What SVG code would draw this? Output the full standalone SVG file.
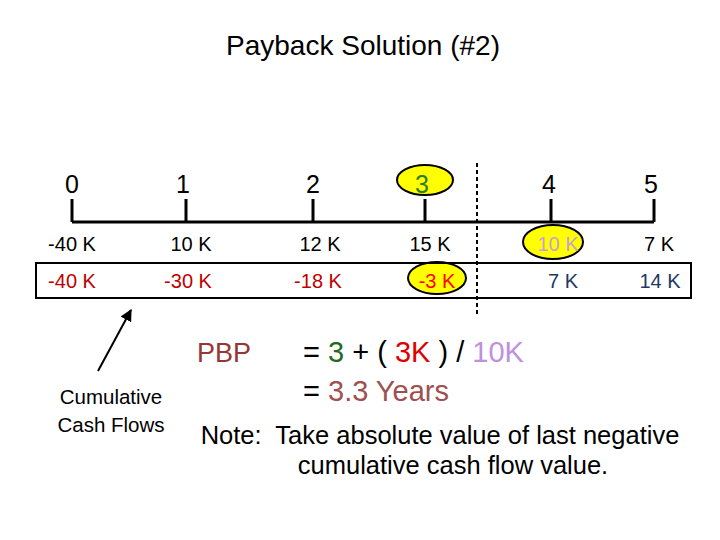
<svg xmlns="http://www.w3.org/2000/svg" width="720" height="540" viewBox="0 0 720 540">
<style>
text{font-family:"Liberation Sans","DejaVu Sans",sans-serif;}
.yr{font-size:25px;text-anchor:middle;fill:#000;}
.cf{font-size:20px;text-anchor:middle;fill:#000;}
.cum{font-size:20px;text-anchor:middle;fill:#C00000;}
.line{stroke:#000;stroke-width:3;fill:none;}
.hl{fill:#FFFF00;stroke:#000;stroke-width:2;}
.big{font-size:29px;}
.note{font-size:25.5px;fill:#000;text-anchor:middle;white-space:pre;}
</style>
<defs>
<marker id="ah" viewBox="0 0 10 10" refX="9" refY="5" markerWidth="6" markerHeight="6" orient="auto">
<path d="M0,0 L10,5 L0,10 z" fill="#000"/>
</marker>
</defs>
<rect width="720" height="540" fill="#fff"/>
<g id="title"><text x="363" y="55" font-size="28" text-anchor="middle" fill="#000">Payback Solution (#2)</text></g>

<g id="timeline">
<path class="line" d="M72,222 H654 M72,222 V199 M186,222 V199 M313,222 V199 M425,222 V199 M551,222 V199 M654,222 V199"/>
</g>
<g id="highlights">
<ellipse class="hl" cx="425" cy="180" rx="28" ry="15"/>
<ellipse class="hl" cx="553" cy="242" rx="30" ry="17"/>
<ellipse class="hl" cx="437" cy="278" rx="29" ry="16"/>
</g>
<g id="years">
<text class="yr" x="72" y="193">0</text>
<text class="yr" x="183" y="193">1</text>
<text class="yr" x="313" y="193">2</text>
<text class="yr" x="422" y="193" style="fill:#2E7D1E">3</text>
<text class="yr" x="549" y="193">4</text>
<text class="yr" x="651" y="193">5</text>
</g>
<g id="cashflows">
<text class="cf" x="72" y="251">-40 K</text>
<text class="cf" x="191" y="251">10 K</text>
<text class="cf" x="320" y="251">12 K</text>
<text class="cf" x="430" y="251">15 K</text>
<text class="cf" x="558" y="251" style="fill:#C9A0D8">10 K</text>
<text class="cf" x="659" y="251">7 K</text>
</g>
<g id="cumulative">
<rect x="36" y="263" width="655" height="35" fill="none" stroke="#000" stroke-width="2"/>
<text class="cum" x="72" y="288">-40 K</text>
<text class="cum" x="188" y="288">-30 K</text>
<text class="cum" x="318" y="288">-18 K</text>
<text class="cum" x="437" y="288" style="fill:#FF0000">-3 K</text>
<text class="cum" x="563" y="288" style="fill:#1F3864">7 K</text>
<text class="cum" x="660" y="288" style="fill:#1F3864">14 K</text>
</g>
<g id="divider">
<line x1="477" y1="163" x2="477" y2="316" stroke="#000" stroke-width="2" stroke-dasharray="4,3"/>
</g>
<g id="connectors">
<line x1="98" y1="371" x2="131" y2="310" stroke="#000" stroke-width="2" marker-end="url(#ah)"/>
</g>
<g id="label-cum">
<text x="111" y="404" font-size="20.5" text-anchor="middle" fill="#000">Cumulative</text>
<text x="111" y="432" font-size="20.5" text-anchor="middle" fill="#000">Cash Flows</text>
</g>
<g id="formula">
<text x="197" y="362" font-size="27" fill="#953735">PBP</text>
<text x="303" y="362" class="big" fill="#000">= <tspan fill="#1E6B1E">3</tspan> + ( <tspan fill="#E00000">3K</tspan> ) / <tspan fill="#C090E0">10K</tspan></text>
<text x="303" y="401" class="big" fill="#000">= <tspan fill="#9E5050">3.3 Years</tspan></text>
</g>
<g id="note">
<text class="note" x="440" y="444">Note:  Take absolute value of last negative</text>
<text class="note" x="453" y="474">cumulative cash flow value.</text>
</g>
</svg>
